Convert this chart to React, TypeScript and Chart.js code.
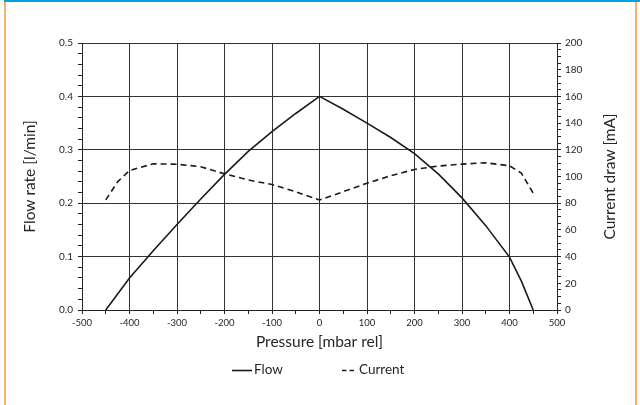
import React, { useEffect, useRef } from "react";
import { Chart, registerables } from "chart.js";

Chart.register(...registerables);

// ---- data ----
const flowPressure = [-450, -400, -350, -300, -250, -200, -150, -100, -50, 0, 50, 100, 150, 200, 250, 300, 350, 400, 425, 450];
const flowRate = [0, 0.06, 0.111, 0.16, 0.208, 0.254, 0.297, 0.334, 0.368, 0.4, 0.376, 0.35, 0.323, 0.293, 0.255, 0.21, 0.158, 0.099, 0.054, 0];

const currentPressure = [-450, -425, -400, -350, -300, -250, -200, -150, -100, -50, 0, 50, 100, 150, 200, 250, 300, 350, 400, 425, 450];
const currentDraw = [82.5, 96, 104.5, 109.5, 109.2, 107.3, 102, 97.4, 94, 88.6, 82.4, 88.6, 95, 100.6, 105.3, 107.8, 109.3, 110.3, 108, 102.5, 87.5];

const seriesLabels = ["Flow", "Current"];
const axisTitles = { x: "Pressure [mbar rel]", y: "Flow rate [l/min]", y1: "Current draw [mA]" };

const xRange = { min: -500, max: 500, minor: 50, major: 100 };
const yRange = { min: 0, max: 0.5, minor: 0.02, major: 0.1 };
const y1Range = { min: 0, max: 200, minor: 5, major: 20 };

// ---- styles ----
const FONT = "Lato, 'Open Sans', sans-serif";
const GRID = "#333333";
const AXIS = "#222222";
const LINE = "#1a1a1a";
const TEXT = "#262626";
const TITLE_SIZE = 15.5;

const isMult = (v: number, m: number) => Math.abs(v / m - Math.round(v / m)) < 1e-6;

const legendLayout = [
  { x: 232, len: 20, gap: 2 },
  { x: 342, len: 12, gap: 5 },
];

const extrasPlugin = {
  id: "extras",
  afterDraw(chart: any) {
    const ctx = chart.ctx as CanvasRenderingContext2D;
    const area = chart.chartArea;
    ctx.save();
    // right axis title, reading bottom-to-top
    ctx.font = `${TITLE_SIZE}px ${FONT}`;
    ctx.fillStyle = TEXT;
    ctx.textAlign = "center";
    ctx.textBaseline = "middle";
    ctx.translate(610, (area.top + area.bottom) / 2);
    ctx.rotate(-Math.PI / 2);
    ctx.fillText(axisTitles.y1, 0, 0);
    ctx.restore();

    // legend
    const y = 370;
    ctx.save();
    ctx.font = `13.5px ${FONT}`;
    ctx.fillStyle = TEXT;
    ctx.textBaseline = "middle";
    ctx.textAlign = "left";
    chart.data.datasets.forEach((ds: any, i: number) => {
      const l = legendLayout[i];
      ctx.beginPath();
      ctx.strokeStyle = ds.borderColor;
      ctx.lineWidth = ds.borderWidth;
      ctx.setLineDash(ds.borderDash ? [4.5, 3] : []);
      ctx.moveTo(l.x, y + 0.5);
      ctx.lineTo(l.x + l.len, y + 0.5);
      ctx.stroke();
      ctx.setLineDash([]);
      ctx.fillText(ds.label, l.x + l.len + l.gap, y);
    });
    ctx.restore();
  },
};

export default function App() {
  const ref = useRef<HTMLCanvasElement | null>(null);

  useEffect(() => {
    document.body.style.margin = "0";
    const canvas = ref.current;
    if (!canvas) return;
    const chart = new Chart(canvas, {
      type: "line",
      data: {
        datasets: [
          {
            label: seriesLabels[0],
            data: flowPressure.map((p, i) => ({ x: p, y: flowRate[i] })),
            borderColor: LINE,
            borderWidth: 1.6,
            pointRadius: 0,
            tension: 0,
            yAxisID: "y",
          },
          {
            label: seriesLabels[1],
            data: currentPressure.map((p, i) => ({ x: p, y: currentDraw[i] })),
            borderColor: LINE,
            borderWidth: 1.6,
            borderDash: [6, 4],
            pointRadius: 0,
            tension: 0,
            yAxisID: "y1",
          },
        ],
      },
      options: {
        responsive: false,
        animation: false,
        layout: { padding: { top: 43, left: 0, right: 0, bottom: 0 } },
        plugins: { legend: { display: false }, tooltip: { enabled: false } },
        scales: {
          x: {
            type: "linear",
            position: "bottom",
            min: xRange.min,
            max: xRange.max,
            ticks: {
              stepSize: xRange.minor,
              autoSkip: false,
              maxTicksLimit: 1000,
              maxRotation: 0,
              minRotation: 0,
              padding: 3,
              color: TEXT,
              font: { family: FONT, size: 9.5 },
              callback: (v: any) => (isMult(Number(v), xRange.major) ? String(v) : ""),
            },
            grid: {
              color: (c: any) => (c.tick && isMult(c.tick.value, xRange.major) ? GRID : "rgba(0,0,0,0)"),
              tickColor: AXIS,
              tickLength: 4,
              lineWidth: 1,
            },
            border: { color: AXIS, width: 1 },
            title: {
              display: true,
              text: axisTitles.x,
              color: TEXT,
              font: { family: FONT, size: TITLE_SIZE },
              padding: { top: 0, bottom: 54 },
            },
            afterFit: (s: any) => {
              s.height = 95;
            },
          },
          y: {
            type: "linear",
            position: "left",
            min: yRange.min,
            max: yRange.max,
            ticks: {
              stepSize: yRange.minor,
              autoSkip: false,
              maxTicksLimit: 1000,
              padding: 5,
              color: TEXT,
              font: { family: FONT, size: 10 },
              callback: (v: any) => (isMult(Number(v), yRange.major) ? Number(v).toFixed(1) : ""),
            },
            grid: {
              color: (c: any) => (c.tick && isMult(c.tick.value, yRange.major) ? GRID : "rgba(0,0,0,0)"),
              tickColor: AXIS,
              tickLength: 4,
              lineWidth: 1,
            },
            border: { color: AXIS, width: 1 },
            title: {
              display: true,
              text: axisTitles.y,
              color: TEXT,
              font: { family: FONT, size: TITLE_SIZE },
              padding: { top: 21, bottom: 0 },
            },
            afterFit: (s: any) => {
              s.width = 82;
            },
          },
          y1: {
            type: "linear",
            position: "right",
            min: y1Range.min,
            max: y1Range.max,
            ticks: {
              stepSize: y1Range.minor,
              autoSkip: false,
              maxTicksLimit: 1000,
              padding: 4,
              color: TEXT,
              font: { family: FONT, size: 10 },
              callback: (v: any) => (isMult(Number(v), y1Range.major) ? String(v) : ""),
            },
            grid: {
              drawOnChartArea: false,
              tickColor: AXIS,
              tickLength: 4,
              lineWidth: 1,
            },
            border: { color: AXIS, width: 1 },
            title: { display: false },
            afterFit: (s: any) => {
              s.width = 83;
            },
          },
        },
      },
      plugins: [extrasPlugin],
    } as any);
    return () => chart.destroy();
  }, []);

  return (
    <div style={{ position: "relative", width: 640, height: 405, background: "#ffffff", overflow: "hidden" }}>
      <canvas ref={ref} width={640} height={405} style={{ position: "absolute", left: 0, top: 0 }} />
      <div style={{ position: "absolute", left: 4, top: 0, width: 2, height: 405, background: "#F8B26C" }} />
      <div style={{ position: "absolute", left: 635, top: 0, width: 2, height: 405, background: "#F8B26C" }} />
      <div style={{ position: "absolute", left: 4, top: 0, width: 636, height: 2, background: "#00A0DC" }} />
    </div>
  );
}
